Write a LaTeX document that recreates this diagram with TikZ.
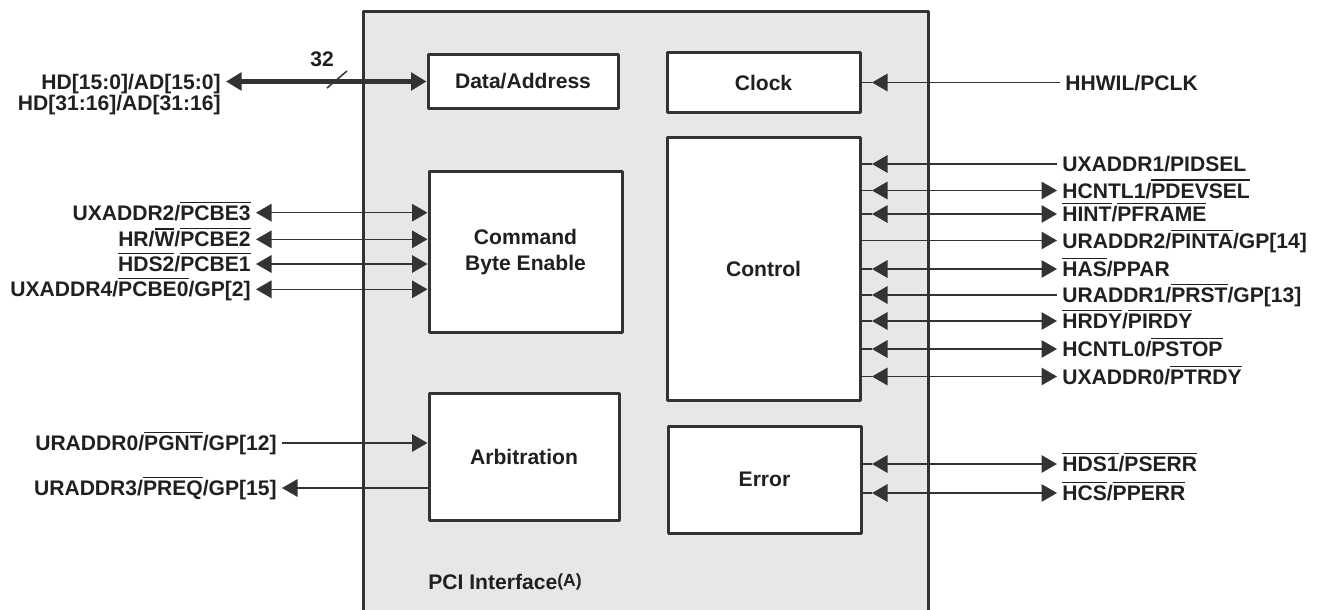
\documentclass[tikz,border=0pt]{standalone}
\usepackage{fontspec}
\setmainfont{Liberation Sans}
\usetikzlibrary{arrows.meta}
\definecolor{ink}{HTML}{231F20}
\definecolor{edge}{HTML}{333333}
\definecolor{pcibg}{HTML}{E6E7E8}
\newcommand\ovl[1]{\leavevmode\vbox{\hrule height 0.7pt\kern 1.5pt\hbox{#1}}}
\tikzset{
  frame/.style={draw=edge, line width=0.6mm, line join=round},
  block/.style={draw=edge, fill=white, line width=0.6mm, line join=round, text=ink, font=\fontsize{12}{14.4}\selectfont\bfseries},
  sig/.style={draw=edge, line width=0.3mm},
  bus/.style={draw=edge, line width=0.9mm},
  pin/.style={text=ink, font=\fontsize{12}{14.4}\selectfont\bfseries, inner sep=1mm, text height=8.6pt, text depth=0pt},
  pinin/.style={<-},
  pinout/.style={->},
  pinboth/.style={<->},
}
\begin{document}
\begin{tikzpicture}[x=0.2mm, y=-0.2mm, >={Triangle[length=3.1mm,width=3.5mm]}]
  \useasboundingbox (0,0) rectangle (1321,610);
  % PCI interface frame, open at the bottom
  \fill[pcibg] (363,12) rectangle (928,614);
  \draw[frame] (363,614) -- (363,12) -- (928,12) -- (928,614);
  \node[pin, anchor=west, inner sep=0pt] (pci) at (428,582) {PCI Interface\raisebox{1.5pt}{\fontsize{10}{12}\selectfont(A)}};
  % blocks
  \node[block, minimum width=38mm, minimum height=10.6mm] (data) at (523,81.5) {Data/Address};
  \node[block, minimum width=38.6mm, minimum height=12mm] (clock) at (763.5,82.5) {Clock};
  \node[block, minimum width=38.6mm, minimum height=32mm, align=center] (cmd) at (525.5,252) {Command\\Byte Enable};
  \node[block, minimum width=38.6mm, minimum height=52.4mm] (ctrl) at (763.5,269) {Control};
  \node[block, minimum width=38mm, minimum height=25.4mm] (arb) at (524,456.5) {Arbitration};
  \node[block, minimum width=38.6mm, minimum height=21.4mm] (err) at (764.5,479.5) {Error};
  % data bus
  \node[pin, anchor=east] (hdlo) at (226,81.5) {HD[15:0]/AD[15:0]};
  \node[pin, anchor=east] (hdhi) at (226,103) {HD[31:16]/AD[31:16]};
  \draw[bus,<->] (hdlo.east) -- (data.west);
  \draw[sig] (327,88) -- (347,71);
  \node[pin] (width) at (322,59) {32};
  % command / byte enable
  \foreach \i/\yy/\txt in {1/212.7/{UXADDR2/\ovl{PCBE3}},
                            2/239.3/{HR/\ovl{W}/\ovl{PCBE2}},
                            3/264/{\ovl{HDS2}/\ovl{PCBE1}},
                            4/289.3/{UXADDR4/\ovl{PCBE0}/GP[2]}}
  {
    \node[pin, anchor=east] (cbe\i) at (256,\yy) {\txt};
    \draw[sig,<->] (cbe\i.east) -- (cbe\i.east -| cmd.west);
  }
  % arbitration
  \node[pin, anchor=east] (gnt) at (282,443) {URADDR0/\ovl{PGNT}/GP[12]};
  \node[pin, anchor=east] (req) at (282,488) {URADDR3/\ovl{PREQ}/GP[15]};
  \draw[sig,->] (gnt.east) -- (gnt.east -| arb.west);
  \draw[sig,<-] (req.east) -- (req.east -| arb.west);
  % clock, control and error pins
  \coordinate (rtip) at (872,0);
  \node[pin, anchor=west] (pclk) at (1060,82.5) {HHWIL/PCLK};
  \draw[sig] (clock.east) -- (rtip |- clock.east);
  \draw[sig,<-] (rtip |- clock.east) -- (pclk.west);
  \foreach \i/\blk/\yy/\dir/\txt in {1/ctrl/164/pinin/{UXADDR1/PIDSEL},
                                      2/ctrl/190.5/pinboth/{HCNTL1/\ovl{PDEVSEL}},
                                      3/ctrl/214/pinboth/{\ovl{HINT}/\ovl{PFRAME}},
                                      4/ctrl/240.5/pinout/{URADDR2/\ovl{PINTA}/GP[14]},
                                      5/ctrl/269/pinboth/{\ovl{HAS}/PPAR},
                                      6/ctrl/295/pinin/{URADDR1/\ovl{PRST}/GP[13]},
                                      7/ctrl/321/pinboth/{\ovl{HRDY}/\ovl{PIRDY}},
                                      8/ctrl/349/pinboth/{HCNTL0/\ovl{PSTOP}},
                                      9/ctrl/376.5/pinboth/{UXADDR0/\ovl{PTRDY}},
                                      10/err/464/pinboth/{\ovl{HDS1}/\ovl{PSERR}},
                                      11/err/493/pinboth/{\ovl{HCS}/\ovl{PPERR}}}
  {
    \node[pin, anchor=west] (pin\i) at (1057,\yy) {\txt};
    \draw[sig] (pin\i.west -| \blk.east) -- (pin\i.west -| rtip);
    \draw[sig,\dir] (pin\i.west -| rtip) -- (pin\i.west);
  }
\end{tikzpicture}
\end{document}
